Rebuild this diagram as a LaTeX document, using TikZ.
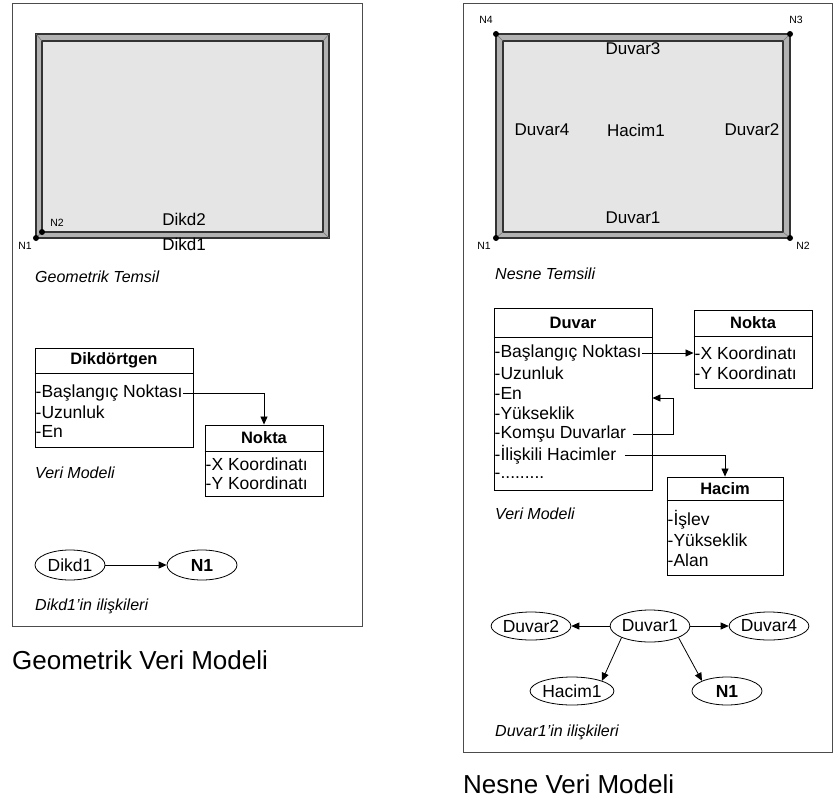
\documentclass[tikz,border=0pt]{standalone}
\usepackage{fontspec}
\setmainfont{Liberation Sans}
\usetikzlibrary{arrows.meta,shapes.geometric}

\begin{document}
\begin{tikzpicture}[x=1pt,y=-1pt,
  frame/.style={draw=black!70, line width=1pt},
  wallout/.style={draw=black!80, line width=1.1pt, fill=black!30},
  wallin/.style={draw=black!80, line width=1.1pt, fill=black!10},
  bevel/.style={draw=black!55, line width=0.5pt},
  corner/.style={circle, fill=black, inner sep=0pt, minimum size=6pt},
  ptlabel/.style={font=\fontsize{10.5}{12}\selectfont, inner sep=0pt},
  lbl/.style={font=\fontsize{17}{19}\selectfont, inner sep=0pt},
  caption/.style={font=\fontsize{16}{18}\selectfont\itshape, anchor=west, inner sep=0pt},
  title/.style={font=\fontsize{26}{29}\selectfont, anchor=west, inner sep=0pt},
  umlbox/.style={draw, line width=0.9pt, inner sep=0pt},
  head/.style={font=\fontsize{16.5}{19}\selectfont\bfseries, inner sep=0pt},
  row/.style={font=\fontsize{17.5}{19}\selectfont, anchor=west, inner sep=0.5pt},
  oval/.style={draw, ellipse, line width=0.8pt, inner sep=0pt, minimum width=70pt, minimum height=28pt, font=\fontsize{17.5}{19}\selectfont},
  conn/.style={line width=0.8pt, -{Triangle[length=8pt,width=7pt]}},
]
\useasboundingbox (0,0) rectangle (834,803);

% ---------------- Geometrik veri modeli ----------------
\draw[frame] (12,3) rectangle (362,626);

% rectangle with its wall
\draw[wallout] (36,34) rectangle (329,238);
\draw[wallin] (42,41) rectangle (323,232);
\draw[bevel] (36,34) -- (42,41) (329,34) -- (323,41) (36,238) -- (42,232) (329,238) -- (323,232);
\node[corner] (gN1) at (36,238) {};
\node[corner] (gN2) at (42,232) {};
\node[ptlabel] at (25,246) {N1};
\node[ptlabel] at (57,223) {N2};
\node[lbl] at (184,219) {Dikd2};
\node[lbl] at (184,244) {Dikd1};
\node[caption] at (35,277) {Geometrik Temsil};

% data model
\node[umlbox, minimum width=158pt, minimum height=99pt] (dik) at (114,397.5) {};
\draw[line width=0.9pt] ([yshift=-26pt]dik.north west) -- ([yshift=-26pt]dik.north east);
\node[head] at ([yshift=-13pt]dik.north) {Dikdörtgen};
\node[row] (dikB) at (35,393) {-Başlangıç Noktası};
\node[row] (dikU) at (35,412) {-Uzunluk};
\node[row] (dikE) at (35,431) {-En};

\node[umlbox, minimum width=118pt, minimum height=71pt] (gnok) at (264,460.5) {};
\draw[line width=0.9pt] ([yshift=-27pt]gnok.north west) -- ([yshift=-27pt]gnok.north east);
\node[head] at ([yshift=-13.5pt]gnok.north) {Nokta};
\node[row] (gnokX) at (205,464) {-X Koordinatı};
\node[row] (gnokY) at (205,483) {-Y Koordinatı};

\draw[conn] (dikB.east) -| (gnok.north);
\node[caption] at (35,473) {Veri Modeli};

% relations
\node[oval, minimum height=30pt] (dikd1) at (70,565) {Dikd1};
\node[oval, minimum height=30pt, font=\fontsize{17.5}{19}\selectfont\bfseries] (gn1) at (202,565) {N1};
\draw[conn] (dikd1) -- (gn1);
\node[caption] at (35,606) {Dikd1'in ilişkileri};

\node[title] at (12,660) {Geometrik Veri Modeli};

% ---------------- Nesne veri modeli ----------------
\draw[frame] (463,3) rectangle (832,752);

\draw[wallout] (496,34) rectangle (790,238);
\draw[wallin] (503,41) rectangle (783,232);
\draw[bevel] (496,34) -- (503,41) (790,34) -- (783,41) (496,238) -- (503,232) (790,238) -- (783,232);
\node[corner] (oN4) at (496,34) {};
\node[corner] (oN3) at (790,34) {};
\node[corner] (oN1) at (496,238) {};
\node[corner] (oN2) at (790,238) {};
\node[ptlabel] at (486,20) {N4};
\node[ptlabel] at (796,20) {N3};
\node[ptlabel] at (484,246) {N1};
\node[ptlabel] at (803,246) {N2};
\node[lbl] at (633,49) {Duvar3};
\node[lbl] at (542,130) {Duvar4};
\node[lbl] at (636,130) {Hacim1};
\node[lbl] at (752,130) {Duvar2};
\node[lbl] at (633,218) {Duvar1};
\node[caption] at (495,274) {Nesne Temsili};

% data model
\node[umlbox, minimum width=158pt, minimum height=182pt] (duv) at (573,399) {};
\draw[line width=0.9pt] ([yshift=-30pt]duv.north west) -- ([yshift=-30pt]duv.north east);
\node[head] at ([yshift=-15pt]duv.north) {Duvar};
\node[row] (duvB) at (494,353) {-Başlangıç Noktası};
\node[row] (duvU) at (494,373) {-Uzunluk};
\node[row] (duvE) at (494,393) {-En};
\node[row] (duvY) at (494,413) {-Yükseklik};
\node[row] (duvK) at (494,434) {-Komşu Duvarlar};
\node[row] (duvI) at (494,455) {-İlişkili Hacimler};
\node[row] (duvD) at (494,476) {-.........};

\node[umlbox, minimum width=118pt, minimum height=78pt] (onok) at (753,349) {};
\draw[line width=0.9pt] ([yshift=-27pt]onok.north west) -- ([yshift=-27pt]onok.north east);
\node[head] at ([yshift=-13.5pt]onok.north) {Nokta};
\node[row] (onokX) at (694,353) {-X Koordinatı};
\node[row] (onokY) at (694,373) {-Y Koordinatı};

\node[umlbox, minimum width=116pt, minimum height=98pt] (hac) at (725,526) {};
\draw[line width=0.9pt] ([yshift=-24pt]hac.north west) -- ([yshift=-24pt]hac.north east);
\node[head] at ([yshift=-12pt]hac.north) {Hacim};
\node[row] (hacI) at (667,520) {-İşlev};
\node[row] (hacY) at (667,540) {-Yükseklik};
\node[row] (hacA) at (667,560) {-Alan};

\coordinate (kturn) at (673,398);
\draw[conn] (duvB.east) -- (onok.west |- duvB.east);
\draw[conn] ([xshift=6pt]duvK.east) -| (kturn) -- (duv.east |- kturn);
\draw[conn] ([xshift=8pt]duvI.east) -| (hac.north);
\node[caption] at (495,514) {Veri Modeli};

% relations
\node[oval, minimum width=72pt, minimum height=32pt] (od1) at (650,626) {Duvar1};
\node[oval] (od2) at (531,626) {Duvar2};
\node[oval] (od4) at (769,626) {Duvar4};
\node[oval] (oh1) at (572,691) {Hacim1};
\node[oval, font=\fontsize{17.5}{19}\selectfont\bfseries] (on1) at (727,691) {N1};
\draw[conn] (od1) -- (od2);
\draw[conn] (od1) -- (od4);
\draw[conn] (od1.south west) -- (oh1.north east);
\draw[conn] (od1.south east) -- (on1.north west);
\node[caption] at (495,732) {Duvar1'in ilişkileri};

\node[title] at (463,784) {Nesne Veri Modeli};
\end{tikzpicture}
\end{document}
